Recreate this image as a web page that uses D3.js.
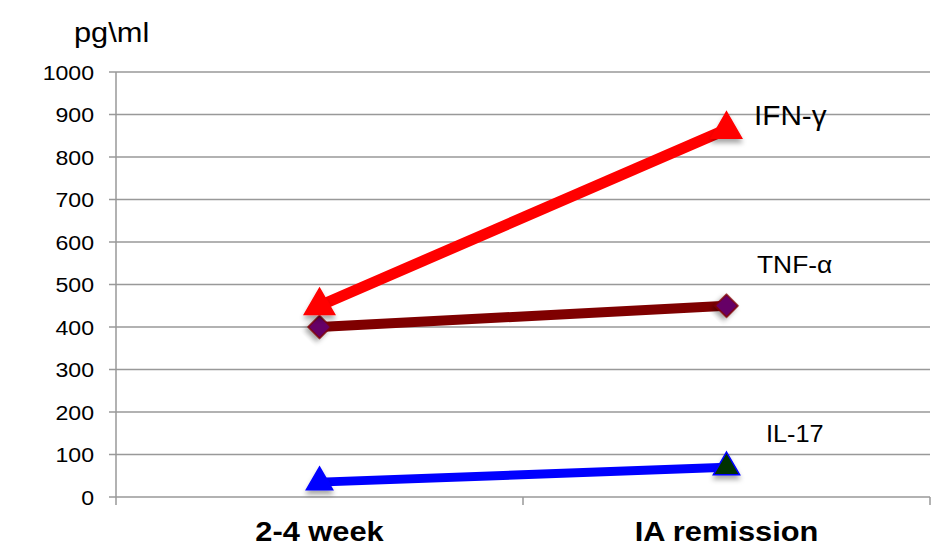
<!DOCTYPE html>
<html>
<head>
<meta charset="utf-8">
<script src="https://cdn.jsdelivr.net/npm/d3@7"></script>
<style>
  body { margin: 0; background: #fff; }
  text { font-family: "Liberation Sans", Arial, sans-serif; }
</style>
</head>
<body>
<svg id="fig" width="943" height="551"></svg>
<script>
var categories = ["2-4 week", "IA remission"];
var yTicks = [0, 100, 200, 300, 400, 500, 600, 700, 800, 900, 1000];
var ifnValues = [450, 865];
var tnfValues = [400, 450];
var il17Values = [35, 70];

var svg = d3.select("#fig");
const margin = { left: 116, top: 72, right: 13, bottom: 54 };
const width = +svg.attr("width"), height = +svg.attr("height");
const sx = 1.1;   // text in the picture is a bit wider than plain Arial

var xSc = d3.scaleBand().domain(categories)
            .range([margin.left, width - margin.right]);
var ySc = d3.scaleLinear().domain([0, 1000])
            .range([height - margin.bottom, margin.top]);

// shadow filter
var defs = svg.append("defs");
var f = defs.append("filter").attr("id", "shadow")
            .attr("x", "-50%").attr("y", "-50%").attr("width", "200%").attr("height", "200%");
f.append("feDropShadow").attr("dx", 0).attr("dy", 4).attr("stdDeviation", 2.5)
 .attr("flood-color", "#000").attr("flood-opacity", 0.35);

// gridlines
svg.append("g").selectAll("line").data(yTicks).enter().append("line")
   .attr("x1", margin.left - 7).attr("x2", width - margin.right)
   .attr("y1", d => ySc(d)).attr("y2", d => ySc(d))
   .attr("stroke", "#999").attr("stroke-width", 1.5);

// y axis line
svg.append("line").attr("x1", margin.left).attr("x2", margin.left)
   .attr("y1", ySc(1000)).attr("y2", ySc(0) + 8)
   .attr("stroke", "#999").attr("stroke-width", 1.5);

// category ticks
var bounds = [margin.left + xSc.bandwidth(), width - margin.right];
svg.append("g").selectAll("line").data(bounds).enter().append("line")
   .attr("x1", d => d).attr("x2", d => d)
   .attr("y1", ySc(0)).attr("y2", ySc(0) + 8)
   .attr("stroke", "#999").attr("stroke-width", 1.5);

function label(x, y, txt, size, anchor, bold) {
  svg.append("text")
     .attr("transform", `translate(${x},${y}) scale(${sx},1)`)
     .attr("text-anchor", anchor || "start")
     .attr("font-size", size)
     .attr("font-weight", bold ? "bold" : "normal")
     .text(txt);
}

// y tick labels
yTicks.forEach(d => label(margin.left - 22, ySc(d) + 7.5, d, 21, "end"));

// x labels
categories.forEach(c => label(xSc(c) + xSc.bandwidth() / 2, 541, c, 28, "middle", true));

label(74, 42, "pg\\ml", 28);

var cx = d => xSc(d) + xSc.bandwidth() / 2;
var lnMkr = d3.line().x(d => cx(d[0])).y(d => ySc(d[1]));

function series(vals, color, lw, sym, size, fills, stroke) {
  var pts = categories.map((c, i) => [c, vals[i]]);
  svg.append("path").attr("d", lnMkr(pts)).attr("fill", "none")
     .attr("stroke", color).attr("stroke-width", lw);
  svg.append("g").selectAll("path").data(pts).enter().append("path")
     .attr("d", d3.symbol().type(sym).size(size))
     .attr("transform", d => `translate(${cx(d[0])},${ySc(d[1])})${sym === d3.symbolSquare ? " rotate(45)" : ""}`)
     .attr("fill", (d, i) => fills[i]).attr("stroke", stroke).attr("stroke-width", 1.5)
     .attr("filter", "url(#shadow)");
}

series(tnfValues, "#7f0000", 10, d3.symbolSquare, 260, ["#660066", "#660066"], "#7f0000");
series(ifnValues, "#ff0000", 11, d3.symbolTriangle, 400, ["#ff0000", "#ff0000"], "#ff0000");
series(il17Values, "#0000ff", 9, d3.symbolTriangle, 300, ["#0000ff", "#003300"], "#0000ff");

label(754, 125, "IFN-γ", 27);
label(757, 273, "TNF-α", 24);
label(766, 442, "IL-17", 23);
</script>
</body>
</html>
